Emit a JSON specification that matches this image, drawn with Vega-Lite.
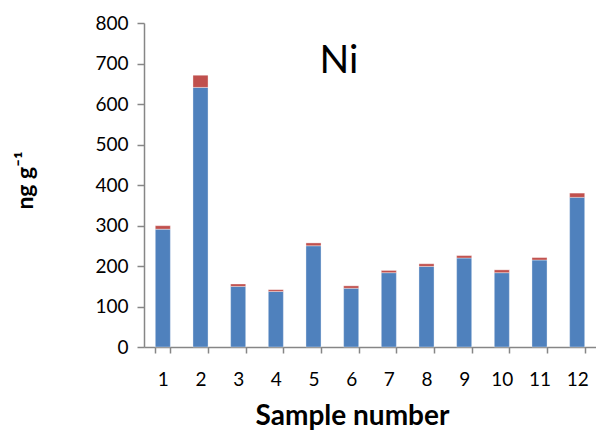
{
  "$schema": "https://vega.github.io/schema/vega-lite/v6.json",
  "width": 452,
  "height": 324,
  "autosize": "none",
  "padding": {"left": 144, "top": 23, "right": 0, "bottom": 89},
  "background": "white",
  "title": {
    "text": "Ni",
    "fontSize": 39,
    "fontWeight": "normal",
    "font": "Lato",
    "color": "#000000",
    "anchor": "middle",
    "offset": -67,
    "dx": -31
  },
  "data": {
    "values": [
      {"sample": "1", "part": "a", "o": 1, "value": 291},
      {"sample": "1", "part": "b", "o": 2, "value": 8.5},
      {"sample": "2", "part": "a", "o": 1, "value": 641},
      {"sample": "2", "part": "b", "o": 2, "value": 30},
      {"sample": "3", "part": "a", "o": 1, "value": 149.6},
      {"sample": "3", "part": "b", "o": 2, "value": 6},
      {"sample": "4", "part": "a", "o": 1, "value": 137},
      {"sample": "4", "part": "b", "o": 2, "value": 4.5},
      {"sample": "5", "part": "a", "o": 1, "value": 250},
      {"sample": "5", "part": "b", "o": 2, "value": 7},
      {"sample": "6", "part": "a", "o": 1, "value": 145},
      {"sample": "6", "part": "b", "o": 2, "value": 6},
      {"sample": "7", "part": "a", "o": 1, "value": 183.5},
      {"sample": "7", "part": "b", "o": 2, "value": 5.5},
      {"sample": "8", "part": "a", "o": 1, "value": 199},
      {"sample": "8", "part": "b", "o": 2, "value": 6.5},
      {"sample": "9", "part": "a", "o": 1, "value": 219.7},
      {"sample": "9", "part": "b", "o": 2, "value": 6},
      {"sample": "10", "part": "a", "o": 1, "value": 183.5},
      {"sample": "10", "part": "b", "o": 2, "value": 7},
      {"sample": "11", "part": "a", "o": 1, "value": 214.8},
      {"sample": "11", "part": "b", "o": 2, "value": 6},
      {"sample": "12", "part": "a", "o": 1, "value": 369.5},
      {"sample": "12", "part": "b", "o": 2, "value": 10.5}
    ]
  },
  "mark": {"type": "bar", "stroke": "#ffffff", "strokeOpacity": 0.35, "strokeWidth": 1},
  "encoding": {
    "x": {
      "field": "sample",
      "type": "ordinal",
      "sort": ["1","2","3","4","5","6","7","8","9","10","11","12"],
      "scale": {"paddingInner": 0.6, "paddingOuter": 0.3},
      "axis": {
        "title": "Sample number",
        "titleFont": "Lato",
        "titleFontSize": 28,
        "titleFontWeight": "bold",
        "titleColor": "#000000",
        "titleX": 208,
        "titleY": 77,
        "titleBaseline": "alphabetic",
        "labelAngle": 0,
        "labelFont": "Lato",
        "labelFontSize": 19,
        "labelColor": "#000000",
        "labelPadding": 17,
        "tickBand": "extent",
        "tickSize": 6,
        "tickColor": "#868686",
        "tickWidth": 1.5,
        "domainColor": "#868686",
        "domainWidth": 1.5,
        "grid": false
      }
    },
    "y": {
      "field": "value",
      "type": "quantitative",
      "stack": "zero",
      "scale": {"domain": [0, 800], "nice": false},
      "axis": {
        "title": "ng g⁻¹",
        "titleFont": "Lato",
        "titleFontSize": 23,
        "titleFontWeight": "bold",
        "titleColor": "#000000",
        "titleX": -119,
        "titleY": 157,
        "titleAlign": "center",
        "titleBaseline": "middle",
        "values": [0,100,200,300,400,500,600,700,800],
        "labelFont": "Lato",
        "labelFontSize": 19,
        "labelColor": "#000000",
        "labelPadding": 9,
        "tickSize": 7,
        "tickColor": "#868686",
        "tickWidth": 1.5,
        "domainColor": "#868686",
        "domainWidth": 1.5,
        "grid": false
      }
    },
    "color": {
      "field": "part",
      "type": "nominal",
      "scale": {"domain": ["a", "b"], "range": ["#4F81BD", "#C0504D"]},
      "legend": null
    },
    "order": {"field": "o", "type": "quantitative"}
  },
  "config": {"view": {"stroke": null}}
}
